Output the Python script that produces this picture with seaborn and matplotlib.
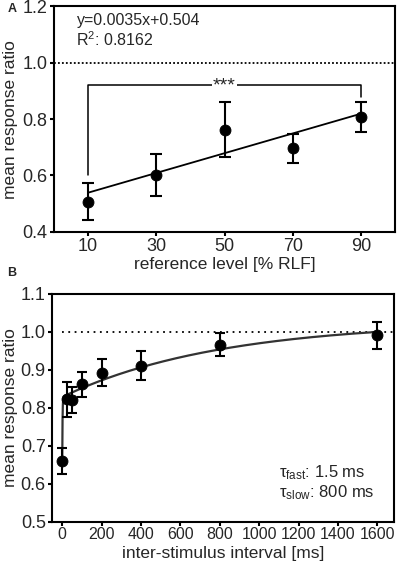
import numpy as np
import pandas as pd
import matplotlib
matplotlib.use("Agg")
import matplotlib.pyplot as plt
import seaborn as sns

# ---- Panel A data ----
ref_levels = [10, 30, 50, 70, 90]
ratio_a = [0.507, 0.602, 0.763, 0.697, 0.806]
err_a = [0.066, 0.074, 0.096, 0.051, 0.053]
slope_a = 0.0035
intercept_a = 0.504
r2_a = "0.8162"
yticks_a = [0.4, 0.6, 0.8, 1.0, 1.2]

# ---- Panel B data ----
isi = [0, 25, 50, 100, 200, 400, 800, 1600]
ratio_b = [0.661, 0.823, 0.822, 0.863, 0.893, 0.911, 0.967, 0.991]
err_b = [0.035, 0.046, 0.034, 0.033, 0.036, 0.038, 0.031, 0.035]
plateau_b = 1.027
amp_fast, tau_fast = 0.169, 1.5
amp_slow, tau_slow = 0.198, 800.0
xticks_b = [0, 200, 400, 600, 800, 1000, 1200, 1400, 1600]
yticks_b = [0.5, 0.6, 0.7, 0.8, 0.9, 1.0, 1.1]

sns.set_theme(style="ticks")
plt.rcParams["font.family"] = ["Liberation Sans", "DejaVu Sans"]
plt.rcParams["mathtext.fontset"] = "custom"
plt.rcParams["mathtext.rm"] = "Liberation Sans"
plt.rcParams["mathtext.it"] = "Liberation Sans:italic"
plt.rcParams["axes.linewidth"] = 1.5

fig = plt.figure(figsize=(3.97, 5.67), dpi=100)
axA = fig.add_axes([0.136, 0.591, 0.859, 0.398])
axB = fig.add_axes([0.131, 0.0794, 0.862, 0.4021])

# ---------- Panel A ----------
dfa = pd.DataFrame({"x": ref_levels, "y": ratio_a, "e": err_a})
axA.axhline(1.0, color="black", lw=1.3, ls=(0, (1, 1.2)))
xfit = np.array([ref_levels[0], ref_levels[-1]])
sns.lineplot(x=xfit, y=slope_a * xfit + intercept_a, ax=axA, color="black", lw=1.3)
axA.errorbar(dfa["x"], dfa["y"], yerr=dfa["e"], fmt="none", ecolor="black",
             elinewidth=1.5, capsize=4, capthick=1.5)
sns.scatterplot(data=dfa, x="x", y="y", ax=axA, color="black", s=62,
                edgecolor="black", zorder=5)
# significance bracket
axA.plot([10, 10, 90, 90], [0.602, 0.920, 0.920, 0.879], color="black", lw=1.1)
axA.text(50, 0.918, "***", ha="center", va="center", fontsize=14,
         bbox=dict(facecolor="white", edgecolor="none", pad=0.5))
axA.text(0.066, 0.935, "y=0.0035x+0.504", transform=axA.transAxes, fontsize=11.5,
         va="center", ha="left")
axA.text(0.066, 0.85, "R$^{2}$: " + r2_a, transform=axA.transAxes, fontsize=11.5,
         va="center", ha="left")
axA.set_xlim(0, 100)
axA.set_ylim(0.4, 1.2)
axA.set_xticks(ref_levels)
axA.set_yticks(yticks_a)
axA.set_yticklabels([f"{v:.1f}" for v in yticks_a])
axA.tick_params(labelsize=13, width=1.5, length=3, pad=1.5, direction="out", color="black")
axA.set_xlabel("reference level [% RLF]", fontsize=12.5, labelpad=1)
axA.set_ylabel("mean response ratio", fontsize=12.5)
axA.yaxis.set_label_coords(-0.106, 0.5)

# ---------- Panel B ----------
dfb = pd.DataFrame({"x": isi, "y": ratio_b, "e": err_b})
axB.plot([0, 1686], [1.0, 1.0], color="black", lw=1.3, ls=(0, (1, 2.5)))
t = np.concatenate([np.linspace(0, 20, 300), np.linspace(20, 1600, 400)])
fit_b = plateau_b - amp_fast * np.exp(-t / tau_fast) - amp_slow * np.exp(-t / tau_slow)
sns.lineplot(x=t, y=fit_b, ax=axB, color="#333333", lw=1.6, sort=False)
axB.errorbar(dfb["x"], dfb["y"], yerr=dfb["e"], fmt="none", ecolor="black",
             elinewidth=1.5, capsize=3.5, capthick=1.5)
sns.scatterplot(data=dfb, x="x", y="y", ax=axB, color="black", s=62,
                edgecolor="black", zorder=5)
axB.text(0.664, 0.215, "τ$_{\\mathrm{fast}}$: 1.5 ms", transform=axB.transAxes,
         fontsize=12, va="center", ha="left")
axB.text(0.664, 0.127, "τ$_{\\mathrm{slow}}$: 800 ms", transform=axB.transAxes,
         fontsize=12, va="center", ha="left")
axB.set_xlim(-52, 1686)
axB.set_ylim(0.5, 1.1)
axB.set_xticks(xticks_b)
axB.set_yticks(yticks_b)
axB.set_yticklabels([f"{v:.1f}" for v in yticks_b])
axB.tick_params(axis="y", labelsize=13, width=1.5, length=3, pad=1.5, color="black")
axB.tick_params(axis="x", labelsize=11.5, width=1.5, length=3, pad=0.5, color="black")
axB.set_xlabel("inter-stimulus interval [ms]", fontsize=12.5, labelpad=3)
axB.set_ylabel("mean response ratio", fontsize=12.5)
axB.yaxis.set_label_coords(-0.1, 0.5)

for ax in (axA, axB):
    for sp in ax.spines.values():
        sp.set_color("black")
        sp.set_linewidth(1.5)

fig.text(12 / 397, 1 - 9 / 567, "A", fontsize=9, fontweight="bold", ha="center", va="center")
fig.text(12 / 397, 1 - 273 / 567, "B", fontsize=9, fontweight="bold", ha="center", va="center")

fig.savefig("out.png", dpi=100)
